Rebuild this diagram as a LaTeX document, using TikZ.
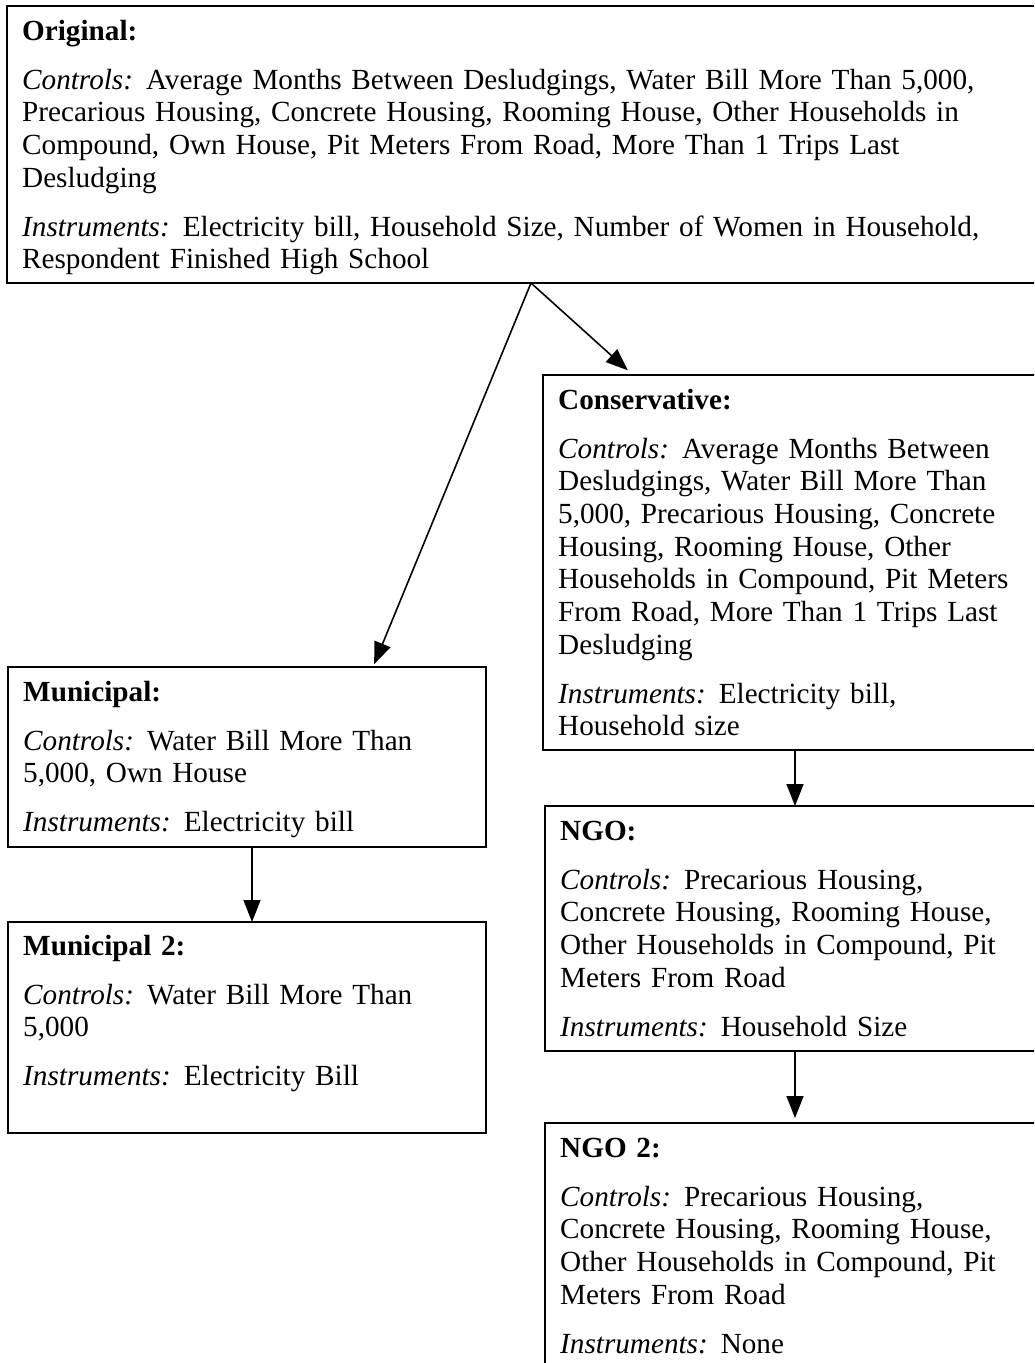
\documentclass[tikz,border=0pt]{standalone}
\usepackage{fontspec}
\setmainfont{Liberation Serif}
\usetikzlibrary{arrows.meta,calc}
\newcommand\pgap{\\[16.3pt]}
\newcommand\lbgap{\hspace{13pt}}
\begin{document}
\begin{tikzpicture}[x=1pt,y=-1pt,
  box/.style={draw,line width=1.6pt,rectangle,inner sep=0pt,outer sep=0pt,anchor=north west},
  txt/.style={anchor=base west,inner sep=0pt,align=left,text width=1010pt,
    font=\fontsize{29.2}{32.7}\selectfont},
  arr/.style={line width=1.6pt,-{Triangle[length=22pt,width=17pt]}}]
\useasboundingbox (0,0) rectangle (1034,1363);
\clip (0,0) rectangle (1034,1363);
% boxes
\node[box,minimum width=1040pt,minimum height=277pt] (orig) at (7,6) {};
\node[box,minimum width=520pt,minimum height=375pt] (cons) at (543,375) {};
\node[box,minimum width=478pt,minimum height=180pt] (muni) at (8,667) {};
\node[box,minimum width=478pt,minimum height=211pt] (muni2) at (8,922) {};
\node[box,minimum width=520pt,minimum height=245pt] (ngo) at (545,806) {};
\node[box,minimum width=520pt,minimum height=300pt] (ngo2) at (545,1123) {};
% texts
\node[txt] (origt) at ($(orig.north west)+(15,34)$) {\textbf{Original:}\pgap
\textit{Controls:}\lbgap Average Months Between Desludgings, Water Bill More Than 5,000,\\
Precarious Housing, Concrete Housing, Rooming House, Other Households in\\
Compound, Own House, Pit Meters From Road, More Than 1 Trips Last\\
Desludging\pgap
\textit{Instruments:}\lbgap Electricity bill, Household Size, Number of Women in Household,\\
Respondent Finished High School};
\node[txt] (const) at ($(cons.north west)+(15,34)$) {\textbf{Conservative:}\pgap
\textit{Controls:}\lbgap Average Months Between\\
Desludgings, Water Bill More Than\\
5,000, Precarious Housing, Concrete\\
Housing, Rooming House, Other\\
Households in Compound, Pit Meters\\
From Road, More Than 1 Trips Last\\
Desludging\pgap
\textit{Instruments:}\lbgap Electricity bill,\\
Household size};
\node[txt] (munit) at ($(muni.north west)+(15,34)$) {\textbf{Municipal:}\pgap
\textit{Controls:}\lbgap Water Bill More Than\\
5,000, Own House\pgap
\textit{Instruments:}\lbgap Electricity bill};
\node[txt] (muni2t) at ($(muni2.north west)+(15,33)$) {\textbf{Municipal 2:}\pgap
\textit{Controls:}\lbgap Water Bill More Than\\
5,000\pgap
\textit{Instruments:}\lbgap Electricity Bill};
\node[txt] (ngot) at ($(ngo.north west)+(15,34)$) {\textbf{NGO:}\pgap
\textit{Controls:}\lbgap Precarious Housing,\\
Concrete Housing, Rooming House,\\
Other Households in Compound, Pit\\
Meters From Road\pgap
\textit{Instruments:}\lbgap Household Size};
\node[txt] (ngo2t) at ($(ngo2.north west)+(15,34)$) {\textbf{NGO 2:}\pgap
\textit{Controls:}\lbgap Precarious Housing,\\
Concrete Housing, Rooming House,\\
Other Households in Compound, Pit\\
Meters From Road\pgap
\textit{Instruments:}\lbgap None};
% connectors
\coordinate (split) at ($(orig.south west)+(524,0)$);
\draw[arr,shorten >=3pt] (split) -- ($(muni.north west)+(365,0)$);
\draw[arr,shorten >=7pt] (split) -- ($(cons.north west)+(90,0)$);
\draw[arr] ($(cons.south west)+(252,0)$) -- ($(ngo.north west)+(250,0)$);
\draw[arr,shorten >=5pt] ($(ngo.south west)+(250,0)$) -- ($(ngo2.north west)+(250,0)$);
\draw[arr] ($(muni.south west)+(244,0)$) -- ($(muni2.north west)+(244,0)$);
\end{tikzpicture}
\end{document}
